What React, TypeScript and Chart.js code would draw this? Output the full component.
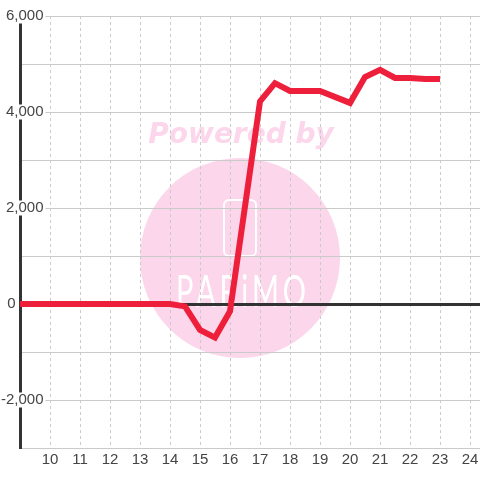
import React, { useEffect, useRef } from "react";
import { Chart, registerables } from "chart.js";

Chart.register(...registerables);

// ---- data ----
const hours = [8, 9, 10, 11, 12, 13, 14, 14.5, 15, 15.5, 16, 17, 17.5, 18, 19, 20, 20.5, 21, 21.5, 22, 22.5, 23];
const values = [0, 0, 0, 0, 0, 0, 0, -50, -540, -700, -150, 4220, 4600, 4440, 4440, 4190, 4730, 4880, 4710, 4710, 4690, 4690];
const xTickValues = [10, 11, 12, 13, 14, 15, 16, 17, 18, 19, 20, 21, 22, 23, 24];
const yLabelValues = [-2000, 0, 2000, 4000, 6000];
const xMin = 9;
const xMax = 24.333;
const yMin = -3000;
const yMax = 6000;
const watermarkTitle = "Powered by";
const watermarkBrand = "PARiMO";

const FONT = "'Liberation Sans', Arial, sans-serif";
const LABEL_COLOR = "#444";
const GRID_COLOR = "#cacaca";

const watermarkPlugin = {
  id: "watermark",
  beforeDraw(chart: any) {
    const { ctx } = chart;
    ctx.save();
    ctx.fillStyle = "#ffffff";
    ctx.fillRect(0, 0, chart.width, chart.height);
    ctx.fillStyle = "#fcd6eb";
    ctx.font = "italic bold 28px 'DejaVu Sans'";
    ctx.textAlign = "center";
    ctx.textBaseline = "alphabetic";
    ctx.fillText(watermarkTitle, 241, 143);
    ctx.beginPath();
    ctx.arc(240, 258, 100, 0, Math.PI * 2);
    ctx.fill();
    ctx.strokeStyle = "#ffffff";
    ctx.lineWidth = 2;
    ctx.beginPath();
    (ctx as any).roundRect(224, 200, 32, 56, 5);
    ctx.stroke();
    ctx.fillStyle = "#ffffff";
    ctx.font = "400 44px Lato, 'DejaVu Sans'";
    (ctx as any).letterSpacing = "6px";
    ctx.fillText(watermarkBrand, 243, 307, 134);
    ctx.restore();
  },
};

export default function App() {
  const canvasRef = useRef<HTMLCanvasElement | null>(null);

  useEffect(() => {
    if (!canvasRef.current) return;
    const chart = new Chart(canvasRef.current, {
      type: "line",
      data: {
        datasets: [
          {
            data: hours.map((h, i) => ({ x: h, y: values[i] })),
            borderColor: "#ee1f3b",
            borderWidth: 6,
            pointRadius: 0,
            pointHoverRadius: 0,
            tension: 0,
            fill: false,
          },
        ],
      },
      options: {
        animation: false,
        responsive: false,
        events: [],
        layout: { padding: { top: 16, left: 0, right: 0, bottom: 0 } },
        plugins: {
          legend: { display: false },
          tooltip: { enabled: false },
        },
        scales: {
          x: {
            type: "linear",
            position: "bottom",
            min: xMin,
            max: xMax,
            afterBuildTicks: (scale: any) => {
              scale.ticks = xTickValues.map((v) => ({ value: v }));
            },
            afterFit: (scale: any) => {
              scale.height = 32;
              scale.paddingLeft = 0;
              scale.paddingRight = 0;
            },
            ticks: {
              stepSize: 1,
              padding: 3,
              maxRotation: 0,
              autoSkip: false,
              color: LABEL_COLOR,
              font: { family: FONT, size: 15 },
              callback: (v: any) => String(v),
            },
            grid: {
              color: GRID_COLOR,
              lineWidth: 1,
              drawTicks: false,
            },
            border: { color: GRID_COLOR, width: 1, dash: [3, 3] },
          },
          y: {
            type: "linear",
            position: "left",
            min: yMin,
            max: yMax,
            afterFit: (scale: any) => {
              scale.width = 20;
              scale.paddingTop = 0;
              scale.paddingBottom = 0;
            },
            ticks: {
              stepSize: 1000,
              mirror: true,
              crossAlign: "far",
              padding: -19,
              color: LABEL_COLOR,
              font: { family: FONT, size: 15, lineHeight: 1 },
              showLabelBackdrop: true,
              backdropPadding: { x: 2, y: 0 },
              backdropColor: (ctx: any) =>
                ctx.tick && yLabelValues.includes(ctx.tick.value) && ctx.tick.value !== 0
                  ? "#ffffff"
                  : "rgba(0,0,0,0)",
              callback: (v: any) => {
                if (!yLabelValues.includes(v)) return "";
                if (v === 0) return "0" + "\u00a0".repeat(6) + "\u2009";
                return Number(v).toLocaleString("en-US");
              },
            } as any,
            grid: {
              color: (ctx: any) => (ctx.tick && ctx.tick.value === 0 ? "#333333" : GRID_COLOR),
              lineWidth: (ctx: any) => (ctx.tick && ctx.tick.value === 0 ? 3 : 1),
              drawTicks: false,
            },
            border: { color: "#333333", width: 3 },
          },
        },
      },
      plugins: [watermarkPlugin],
    } as any);
    return () => chart.destroy();
  }, []);

  return (
    <div style={{ position: "absolute", left: 0, top: 0, width: 480, height: 480 }}>
      <canvas ref={canvasRef} width={480} height={480} />
    </div>
  );
}
